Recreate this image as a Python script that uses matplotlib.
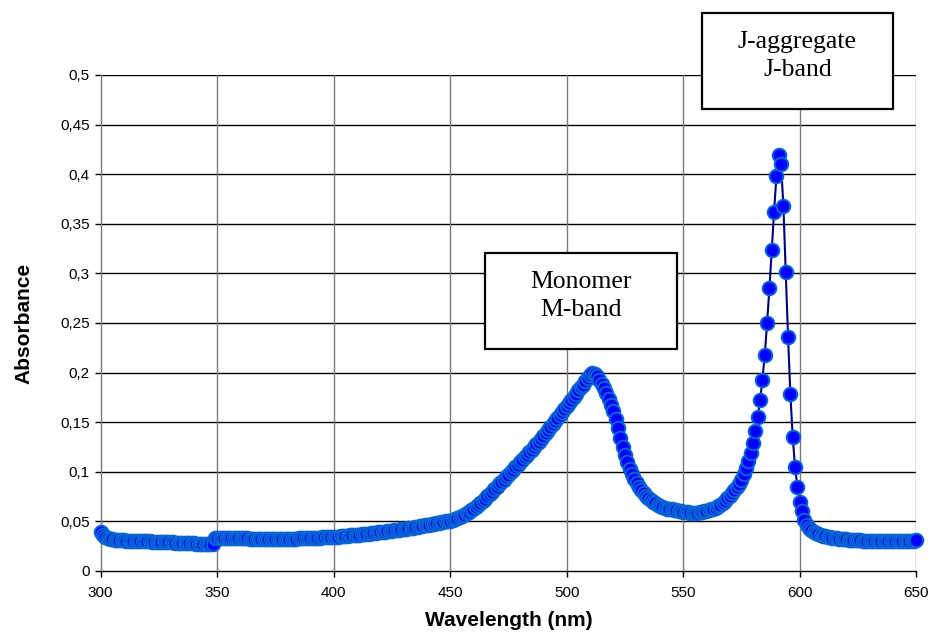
import numpy as np
import matplotlib
matplotlib.use("Agg")
import matplotlib.pyplot as plt
from matplotlib.patches import Rectangle
from matplotlib.ticker import FuncFormatter

# Absorption spectrum sampled every 1 nm from 300 to 650 nm
wavelength = np.arange(300, 651, 1)
absorbance = [
    # 300-349
    0.039, 0.036, 0.034, 0.033, 0.032, 0.032, 0.031, 0.031, 0.031, 0.031,
    0.031, 0.030, 0.030, 0.030, 0.030, 0.030, 0.030, 0.030, 0.030, 0.030,
    0.030, 0.030, 0.029, 0.029, 0.029, 0.029, 0.029, 0.029, 0.029, 0.029,
    0.029, 0.029, 0.028, 0.028, 0.028, 0.028, 0.028, 0.028, 0.028, 0.028,
    0.028, 0.027, 0.027, 0.027, 0.027, 0.027, 0.027, 0.027, 0.027, 0.033,
    # 350-399
    0.033, 0.033, 0.033, 0.033, 0.033, 0.033, 0.033, 0.033, 0.033, 0.033,
    0.033, 0.033, 0.033, 0.033, 0.032, 0.032, 0.032, 0.032, 0.032, 0.032,
    0.032, 0.032, 0.032, 0.032, 0.032, 0.032, 0.032, 0.032, 0.032, 0.032,
    0.032, 0.032, 0.032, 0.032, 0.032, 0.033, 0.033, 0.033, 0.033, 0.033,
    0.033, 0.033, 0.033, 0.033, 0.033, 0.034, 0.034, 0.034, 0.034, 0.034,
    # 400-449
    0.034, 0.034, 0.034, 0.035, 0.035, 0.035, 0.035, 0.036, 0.036, 0.036,
    0.036, 0.036, 0.037, 0.037, 0.037, 0.037, 0.038, 0.038, 0.038, 0.039,
    0.039, 0.039, 0.039, 0.040, 0.040, 0.040, 0.041, 0.041, 0.041, 0.042,
    0.042, 0.042, 0.043, 0.043, 0.043, 0.044, 0.044, 0.045, 0.045, 0.046,
    0.046, 0.046, 0.047, 0.047, 0.048, 0.048, 0.049, 0.049, 0.050, 0.050,
    # 450-499
    0.050, 0.051, 0.052, 0.053, 0.054, 0.055, 0.056, 0.058, 0.059, 0.061,
    0.063, 0.065, 0.067, 0.069, 0.071, 0.073, 0.076, 0.078, 0.080, 0.083,
    0.085, 0.088, 0.090, 0.092, 0.095, 0.097, 0.100, 0.102, 0.105, 0.107,
    0.110, 0.112, 0.115, 0.117, 0.120, 0.122, 0.125, 0.128, 0.130, 0.133,
    0.136, 0.139, 0.142, 0.145, 0.148, 0.151, 0.154, 0.157, 0.160, 0.163,
    # 500-549
    0.166, 0.169, 0.172, 0.175, 0.178, 0.182, 0.185, 0.188, 0.192, 0.195,
    0.198, 0.200, 0.199, 0.197, 0.193, 0.189, 0.184, 0.179, 0.173, 0.167,
    0.161, 0.153, 0.144, 0.134, 0.125, 0.117, 0.110, 0.103, 0.098, 0.093,
    0.089, 0.085, 0.082, 0.079, 0.076, 0.074, 0.072, 0.070, 0.069, 0.067,
    0.066, 0.065, 0.064, 0.063, 0.062, 0.062, 0.061, 0.061, 0.060, 0.060,
    # 550-599
    0.059, 0.059, 0.059, 0.058, 0.058, 0.058, 0.058, 0.059, 0.059, 0.060,
    0.060, 0.061, 0.062, 0.063, 0.064, 0.066, 0.067, 0.069, 0.071, 0.074,
    0.076, 0.079, 0.082, 0.085, 0.088, 0.092, 0.098, 0.104, 0.111, 0.119,
    0.129, 0.141, 0.155, 0.172, 0.193, 0.218, 0.250, 0.285, 0.324, 0.362,
    0.398, 0.419, 0.410, 0.368, 0.301, 0.236, 0.178, 0.135, 0.105, 0.085,
    # 600-650
    0.070, 0.060, 0.051, 0.046, 0.043, 0.041, 0.039, 0.038, 0.037, 0.036,
    0.035, 0.035, 0.034, 0.034, 0.033, 0.033, 0.033, 0.032, 0.032, 0.032,
    0.032, 0.031, 0.031, 0.031, 0.031, 0.031, 0.031, 0.030, 0.030, 0.030,
    0.030, 0.030, 0.030, 0.030, 0.030, 0.030, 0.030, 0.030, 0.030, 0.030,
    0.030, 0.030, 0.030, 0.030, 0.030, 0.030, 0.030, 0.030, 0.030, 0.030,
    0.031,
]

x_ticks = [300, 350, 400, 450, 500, 550, 600, 650]
y_ticks = [0, 0.05, 0.1, 0.15, 0.2, 0.25, 0.3, 0.35, 0.4, 0.45, 0.5]

band_labels = ["Monomer\nM-band", "J-aggregate\nJ-band"]

W, H = 931, 635
fig = plt.figure(figsize=(W / 100, H / 100), dpi=100)
ax = fig.add_axes([100.7 / W, 1 - 571 / H, (916.2 - 100.7) / W, (571 - 75) / H])

ax.plot(wavelength, absorbance, color="#000080", lw=1.5, marker="o",
        markersize=9.8, markerfacecolor="#0000FF", markeredgecolor="#0A64D2",
        markeredgewidth=1.4, zorder=3, clip_on=False)

ax.set_xlim(300, 650)
ax.set_ylim(0, 0.5)
ax.set_xticks(x_ticks)
ax.set_yticks(y_ticks)

def comma_fmt(v, pos):
    s = ("%.2f" % v).rstrip("0").rstrip(".")
    return s.replace(".", ",")

ax.yaxis.set_major_formatter(FuncFormatter(comma_fmt))

# grid: horizontal black, vertical grey
for y in y_ticks[1:]:
    ax.axhline(y, color="black", lw=1.0, zorder=1)
for x in x_ticks[1:]:
    ax.axvline(x, color="#7a7a7a", lw=1.0, zorder=1)

for side in ["top", "right"]:
    ax.spines[side].set_visible(False)
ax.spines["left"].set_color("#7a7a7a")
ax.spines["left"].set_linewidth(1.0)
ax.spines["bottom"].set_color("black")
ax.spines["bottom"].set_linewidth(1.0)

ax.tick_params(axis="both", direction="out", length=4, width=1.0,
               labelsize=11, colors="black", pad=4)
ax.tick_params(axis="x", pad=6.5)
for lab in ax.get_xticklabels() + ax.get_yticklabels():
    lab.set_fontfamily("Liberation Sans")

ax.set_xlabel("Wavelength (nm)", fontsize=15, fontweight="bold",
              family="Liberation Sans", labelpad=8)
ax.set_ylabel("Absorbance", fontsize=15, fontweight="bold",
              family="Liberation Sans", labelpad=19)

# annotation boxes in figure pixel coordinates
boxes = [(485, 253, 677, 349), (702, 13, 893, 109)]
for (x0, y0, x1, y1), label in zip(boxes, band_labels):
    rect = Rectangle((x0 / W, 1 - y1 / H), (x1 - x0) / W, (y1 - y0) / H,
                     transform=fig.transFigure, facecolor="white",
                     edgecolor="black", lw=1.6, zorder=10)
    fig.add_artist(rect)
    fig.text((x0 + x1) / 2 / W, 1 - ((y0 + y1) / 2 - 5) / H, label,
             ha="center", va="center", fontsize=18.5,
             family="Liberation Serif", linespacing=1.35, zorder=11)

fig.savefig("out.png", dpi=100)
